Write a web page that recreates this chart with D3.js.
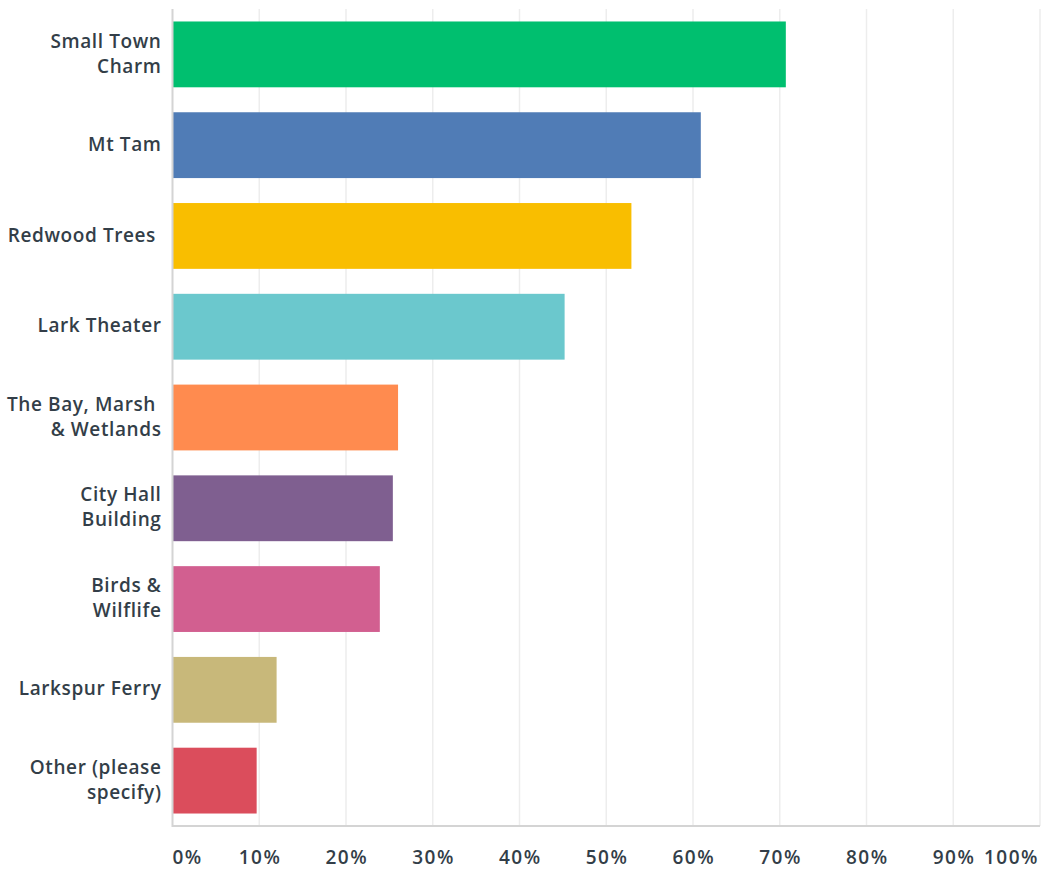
<!DOCTYPE html>
<html>
<head>
<meta charset="utf-8">
<script src="https://cdn.jsdelivr.net/npm/d3@7"></script>
<style>
  body { margin: 0; background: #fff; }
  svg { display: block; }
  .label, .tick-label { font-family: "Open Sans", sans-serif; font-weight: 600; font-size: 19px; fill: #333e48; white-space: pre; }
  .label { letter-spacing: 0.6px; }
  .tick-label { letter-spacing: 1.5px; }
</style>
</head>
<body>
<svg id="chart" width="1042" height="869"></svg>
<script>
// answer choices, top to bottom (lines of each label)
const categories = [
    ["Small Town", "Charm"],
    ["Mt Tam"],
    ["Redwood Trees "],
    ["Lark Theater"],
    ["The Bay, Marsh ", "& Wetlands"],
    ["City Hall", "Building"],
    ["Birds &", "Wilflife"],
    ["Larkspur Ferry"],
    ["Other (please", "specify)"]
];
const values = [70.7, 60.9, 52.9, 45.2, 26.0, 25.4, 23.9, 12.0, 9.7];
const colors = ["#00bf6f", "#507cb6", "#f9be00", "#6bc8cd", "#ff8b4f", "#7f5f90", "#d25f90", "#c8b87a", "#db4d5c"];
const ticks = [0, 10, 20, 30, 40, 50, 60, 70, 80, 90, 100];

const data = categories.map((c, i) => ({ lines: c, value: values[i], color: colors[i], key: i }));

const svg = d3.select("#chart");
const plotLeft = 172.5, plotRight = 1040, plotTop = 9, plotBottom = 826;

const x = d3.scaleLinear().domain([0, 100]).range([plotLeft, plotRight]);
const y = d3.scaleBand()
    .domain(data.map(d => d.key))
    .range([plotTop, plotBottom])
    .paddingInner(0.275)
    .paddingOuter(0.1375);

// gridlines
svg.append("g").selectAll("line")
    .data(ticks.slice(1))
    .enter().append("line")
    .attr("x1", d => x(d)).attr("x2", d => x(d))
    .attr("y1", plotTop).attr("y2", plotBottom)
    .attr("stroke", "#ededed")
    .attr("stroke-width", 1.5);

// bars
svg.append("g").selectAll("rect")
    .data(data)
    .enter().append("rect")
    .attr("x", x(0))
    .attr("y", d => y(d.key))
    .attr("width", d => x(d.value) - x(0))
    .attr("height", y.bandwidth())
    .attr("fill", d => d.color);

// axis lines
svg.append("line")
    .attr("x1", plotLeft).attr("x2", plotLeft)
    .attr("y1", plotTop).attr("y2", plotBottom + 1)
    .attr("stroke", "#d4d4d4").attr("stroke-width", 2);
svg.append("line")
    .attr("x1", plotLeft).attr("x2", plotRight)
    .attr("y1", plotBottom).attr("y2", plotBottom)
    .attr("stroke", "#d4d4d4").attr("stroke-width", 2);

// category labels
const lineH = 25;
const labels = svg.append("g").selectAll("text")
    .data(data)
    .enter().append("text")
    .attr("class", "label")
    .attr("text-anchor", "end")
    .attr("xml:space", "preserve");

labels.each(function(d) {
    const cy = y(d.key) + y.bandwidth() / 2;
    const n = d.lines.length;
    d3.select(this).selectAll("tspan")
        .data(d.lines)
        .enter().append("tspan")
        .attr("x", 161.5)
        .attr("y", (l, j) => cy + (j - (n - 1) / 2) * lineH - 1)
        .attr("dy", "0.35em")
        .text(l => l);
});

// x tick labels
svg.append("g").selectAll("text")
    .data(ticks)
    .enter().append("text")
    .attr("class", "tick-label")
    .attr("x", (d, i) => i === ticks.length - 1 ? plotRight - 1 : i === 0 ? x(d) : x(d) + 0.75)
    .attr("y", 857)
    .attr("dy", "0.35em")
    .attr("text-anchor", (d, i) => i === 0 ? "start" : i === ticks.length - 1 ? "end" : "middle")
    .text(d => d + "%");
</script>
</body>
</html>
